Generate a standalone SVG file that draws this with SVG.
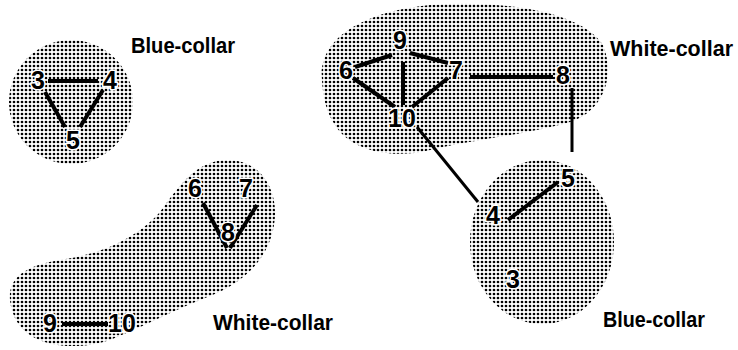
<svg xmlns="http://www.w3.org/2000/svg" width="738" height="350" viewBox="0 0 738 350">
<defs>
<pattern id="dots" width="4" height="4" patternUnits="userSpaceOnUse">
<circle cx="2" cy="2" r="1.35" fill="#000"/>
</pattern>
<style>
.blob{fill:url(#dots);stroke:none}
.e{stroke:#000;stroke-width:4;stroke-linecap:butt;fill:none}
.t{stroke-width:3}
.n{font-family:"Liberation Sans",Arial,sans-serif;font-weight:bold;font-size:25px;fill:#000;text-anchor:middle;stroke:#fff;stroke-width:3;paint-order:stroke}
.lab{font-family:"Liberation Sans",Arial,sans-serif;font-weight:bold;font-size:22px;fill:#000}
</style>
</defs>
<g id="regions">
<circle id="blob-blue-1" class="blob" cx="71" cy="102" r="62"/>
<path id="blob-white-1" class="blob" d="M10,300 C8,275 30,265 60,260 C100,254 135,240 160,212 C180,185 195,162 225,160 C260,158 280,190 274,225 C268,262 240,285 205,298 C170,312 140,328 110,340 C75,352 15,350 10,300 Z"/>
<path id="blob-white-2" class="blob" d="M322,80 C318,40 360,12 430,5 C500,0 580,10 603,45 C615,75 605,110 570,122 C530,134 470,140 430,150 C390,160 350,150 335,125 C325,110 323,95 322,80 Z"/>
<ellipse id="blob-blue-2" class="blob" cx="542" cy="242" rx="72" ry="82"/>
</g>
<g id="connectors">
<line class="e" x1="48" y1="81" x2="98" y2="81"/>
<line class="e" x1="45" y1="92" x2="65" y2="127"/>
<line class="e" x1="103" y1="90" x2="80" y2="127"/>
<line class="e" x1="203" y1="203" x2="227" y2="248"/>
<line class="e" x1="257" y1="205" x2="230" y2="248"/>
<line class="e" x1="62" y1="324" x2="108" y2="324"/>
<line class="e" x1="355" y1="67" x2="392" y2="55"/>
<line class="e" x1="410" y1="53" x2="448" y2="63"/>
<line class="e" x1="403" y1="62" x2="403" y2="105"/>
<line class="e" x1="353" y1="78" x2="395" y2="107"/>
<line class="e" x1="448" y1="78" x2="412" y2="107"/>
<line class="e" x1="470" y1="77" x2="553" y2="77"/>
<line class="e t" x1="572" y1="88" x2="572" y2="152"/>
<line class="e t" x1="417" y1="127" x2="478" y2="202"/>
<line class="e" x1="508" y1="220" x2="558" y2="182"/>
</g>
<g id="n-l3"><text class="n" x="38" y="89">3</text></g>
<g id="n-l4"><text class="n" x="110" y="89">4</text></g>
<g id="n-l5"><text class="n" x="73" y="149">5</text></g>
<g id="n-l6"><text class="n" x="195" y="197">6</text></g>
<g id="n-l7"><text class="n" x="246" y="197">7</text></g>
<g id="n-l8"><text class="n" x="228" y="241">8</text></g>
<g id="n-l9"><text class="n" x="50" y="332">9</text></g>
<g id="n-l10"><text class="n" x="122" y="332">10</text></g>
<g id="n-r9"><text class="n" x="400" y="49">9</text></g>
<g id="n-r6"><text class="n" x="346" y="79">6</text></g>
<g id="n-r7"><text class="n" x="456" y="79">7</text></g>
<g id="n-r8"><text class="n" x="563" y="84">8</text></g>
<g id="n-r10"><text class="n" x="402" y="127">10</text></g>
<g id="n-r5"><text class="n" x="568" y="187">5</text></g>
<g id="n-r4"><text class="n" x="493" y="224">4</text></g>
<g id="n-r3"><text class="n" x="513" y="288">3</text></g>
<g id="labels">
<text class="lab" x="131" y="53" textLength="104" lengthAdjust="spacingAndGlyphs">Blue-collar</text>
<text class="lab" x="213" y="330" textLength="120" lengthAdjust="spacingAndGlyphs">White-collar</text>
<text class="lab" x="610" y="56" textLength="123" lengthAdjust="spacingAndGlyphs">White-collar</text>
<text class="lab" x="603" y="327" textLength="102" lengthAdjust="spacingAndGlyphs">Blue-collar</text>
</g>
</svg>
